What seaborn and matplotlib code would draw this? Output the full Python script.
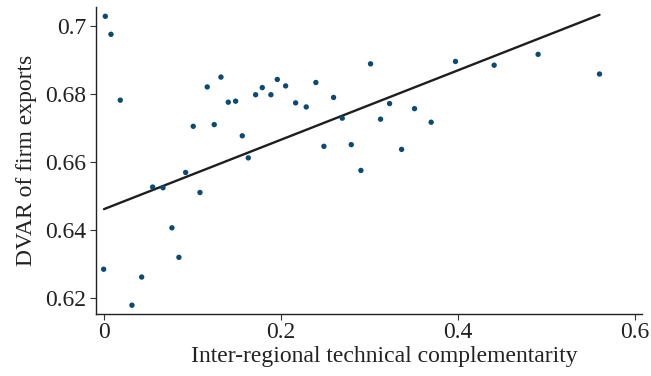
import matplotlib
matplotlib.use("Agg")
import matplotlib.pyplot as plt
import seaborn as sns
import numpy as np
import pandas as pd

x_vals = [0.0015, 0.0079, 0.0184, 0.055, 0.0667, 0.0923, 0.1009, 0.1167, 0.1246, 0.1322,
          0.1405, 0.1488, 0.1563, 0.1631, 0.1714, 0.1789, 0.1887, 0.1959, 0.2053, 0.2166,
          0.2286, 0.2395, 0.2486, 0.2595, 0.2693, 0.2795, 0.2904, 0.3013, 0.3126, 0.3228,
          0.3364, 0.3510, 0.3698, 0.3973, 0.4410, 0.4907, 0.5601, -0.0004, 0.0316, 0.0426,
          0.1085, 0.0768, 0.0847]
y_vals = [0.7029, 0.6976, 0.6782, 0.6526, 0.6524, 0.6569, 0.6705, 0.6821, 0.6710, 0.6850,
          0.6776, 0.6779, 0.6677, 0.6612, 0.6798, 0.6819, 0.6798, 0.6843, 0.6824, 0.6774,
          0.6762, 0.6834, 0.6646, 0.6790, 0.6729, 0.6651, 0.6575, 0.6889, 0.6726, 0.6772,
          0.6637, 0.6757, 0.6717, 0.6896, 0.6885, 0.6917, 0.6859, 0.6284, 0.6178, 0.6261,
          0.6510, 0.6406, 0.6319]
# fitted line as shown in the chart (from underlying firm-level regression)
fit_intercept = 0.6461
fit_slope = 0.1022
x_ticks = [0, 0.2, 0.4, 0.6]
x_tick_labels = ["0", "0.2", "0.4", "0.6"]
y_ticks = [0.62, 0.64, 0.66, 0.68, 0.70]
y_tick_labels = ["0.62", "0.64", "0.66", "0.68", "0.7"]

df = pd.DataFrame({"x": x_vals, "y": y_vals})
fit_x = np.array([0.0, max(x_vals)])
fit_df = pd.DataFrame({"x": fit_x, "y": fit_intercept + fit_slope * fit_x})

sns.set_theme(style="ticks")
plt.rcParams["font.family"] = ["Liberation Serif", "DejaVu Serif"]

fig = plt.figure(figsize=(6.51, 3.76), dpi=100)
ax = fig.add_axes([0.1475, 0.1657, 0.8385, 0.8153])

sns.lineplot(data=fit_df, x="x", y="y", ax=ax, color="#1e1e1e", lw=1.7)
sns.scatterplot(data=df, x="x", y="y", ax=ax, s=15, color="#0b4a72",
                edgecolor="none", alpha=1, zorder=3)

ax.set_xlim(-0.009, 0.608)
ax.set_ylim(0.6153, 0.7056)
ax.set_xticks(x_ticks)
ax.set_xticklabels(x_tick_labels)
ax.set_yticks(y_ticks)
ax.set_yticklabels(y_tick_labels)
ax.tick_params(labelsize=17, length=4, width=0.8, color="#333333", labelcolor="#222222", pad=3)
ax.tick_params(axis="x", pad=2)
ax.set_xlabel("Inter-regional technical complementarity", fontsize=17, color="#222222")
ax.xaxis.set_label_coords(0.529, -0.107)
ax.set_ylabel("DVAR of firm exports", fontsize=17, color="#222222", labelpad=6)
for s in ["top", "right"]:
    ax.spines[s].set_visible(False)
for s in ["left", "bottom"]:
    ax.spines[s].set_color("#222222")
    ax.spines[s].set_linewidth(1.0)

fig.savefig("out.png", dpi=100)
